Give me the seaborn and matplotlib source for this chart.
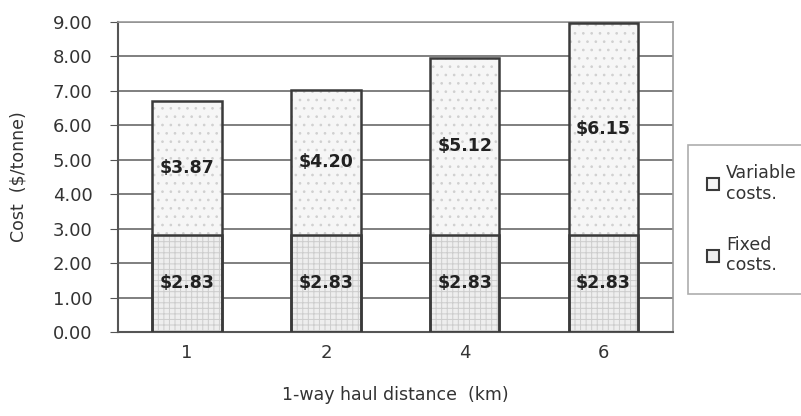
import matplotlib
matplotlib.use("Agg")
from matplotlib import pyplot as plt
from matplotlib.patches import Patch, Rectangle
import numpy as np
import pandas as pd
import seaborn as sns

# data
distance = ["1", "2", "4", "6"]
fixed_costs = [2.83, 2.83, 2.83, 2.83]
variable_costs = [3.87, 4.20, 5.12, 6.15]

df = pd.DataFrame({"distance": distance, "fixed": fixed_costs, "variable": variable_costs})
df["total"] = df["fixed"] + df["variable"]

sns.set_style("white")
plt.rcParams["font.family"] = ["DejaVu Sans"]
plt.rcParams["hatch.linewidth"] = 0.7

fig = plt.figure(figsize=(8.01, 4.16), dpi=100)
ax = fig.add_axes([0.147, 0.202, 0.693, 0.745])

edge = "#3a3a3a"
n = len(distance)
# whole bar (variable on top of fixed), hatch drawn in light grey
sns.barplot(data=df, x="distance", y="total", order=distance, width=0.5, color="#f6f6f6",
            edgecolor="#d0d0d0", linewidth=0, saturation=1, ax=ax, zorder=3)
for p in ax.patches[:n]:
    p.set_hatch("..")
sns.barplot(data=df, x="distance", y="fixed", order=distance, width=0.5, color="#eeeeee",
            edgecolor="#cdcdcd", linewidth=0, saturation=1, ax=ax, zorder=4)
for p in ax.patches[n:2 * n]:
    p.set_hatch("+++")

# dark outlines on top of the hatched bars
for p in list(ax.patches[:2 * n]):
    ax.add_patch(Rectangle(p.get_xy(), p.get_width(), p.get_height(), fill=False,
                           edgecolor=edge, linewidth=1.8, zorder=5))

for i, row in df.iterrows():
    ax.text(i, row["fixed"] / 2, "$%.2f" % row["fixed"], ha="center", va="center",
            fontsize=12.5, fontweight="bold", color="#222222", zorder=6)
    ax.text(i, row["fixed"] + row["variable"] / 2, "$%.2f" % row["variable"], ha="center",
            va="center", fontsize=12.5, fontweight="bold", color="#222222", zorder=6)

ax.set_ylim(0, 9)
ax.set_xlim(-0.5, n - 0.5)
ax.set_yticks(np.arange(0, 9.5, 1))
ax.set_yticklabels(["%.2f" % v for v in np.arange(0, 9.5, 1)], fontsize=13, color="#333333")
ax.set_xticks(range(n))
ax.set_xticklabels(distance, fontsize=13, color="#333333")
ax.set_xticks(np.arange(-0.5, n, 1), minor=True)
ax.tick_params(axis="x", which="major", length=0, pad=9)
ax.tick_params(axis="x", which="minor", length=5, direction="out", color="#555555")
ax.tick_params(axis="y", length=6, direction="out", color="#555555", left=True, pad=12)
ax.yaxis.grid(True, color="#6a6a6a", linewidth=1.2, zorder=0)
ax.set_axisbelow(True)
for s in ["top", "right"]:
    ax.spines[s].set_color("#999999")
    ax.spines[s].set_linewidth(1.2)
for s in ["left", "bottom"]:
    ax.spines[s].set_color("#555555")
    ax.spines[s].set_linewidth(1.5)

ax.set_xlabel("1-way haul distance  (km)", fontsize=12.5, color="#333333", labelpad=17)
ax.set_ylabel("Cost  ($/tonne)", fontsize=12.5, color="#333333", labelpad=18)

handles = [Patch(facecolor="#f6f6f6", edgecolor=edge, linewidth=1.5, label="Variable\ncosts."),
           Patch(facecolor="#eeeeee", edgecolor=edge, linewidth=1.5, label="Fixed\ncosts.")]
leg = fig.legend(handles=handles, loc="upper left", bbox_to_anchor=(0.859, 0.652),
                 fontsize=12.5, frameon=True, fancybox=False, handlelength=0.7, handleheight=0.7,
                 handletextpad=0.4, labelspacing=1.9, borderpad=1.1, borderaxespad=0,
                 alignment="left")
leg.get_frame().set_edgecolor("#999999")
leg.get_frame().set_linewidth(1.2)
for t in leg.get_texts():
    t.set_color("#333333")

fig.savefig("out.png", dpi=100)
